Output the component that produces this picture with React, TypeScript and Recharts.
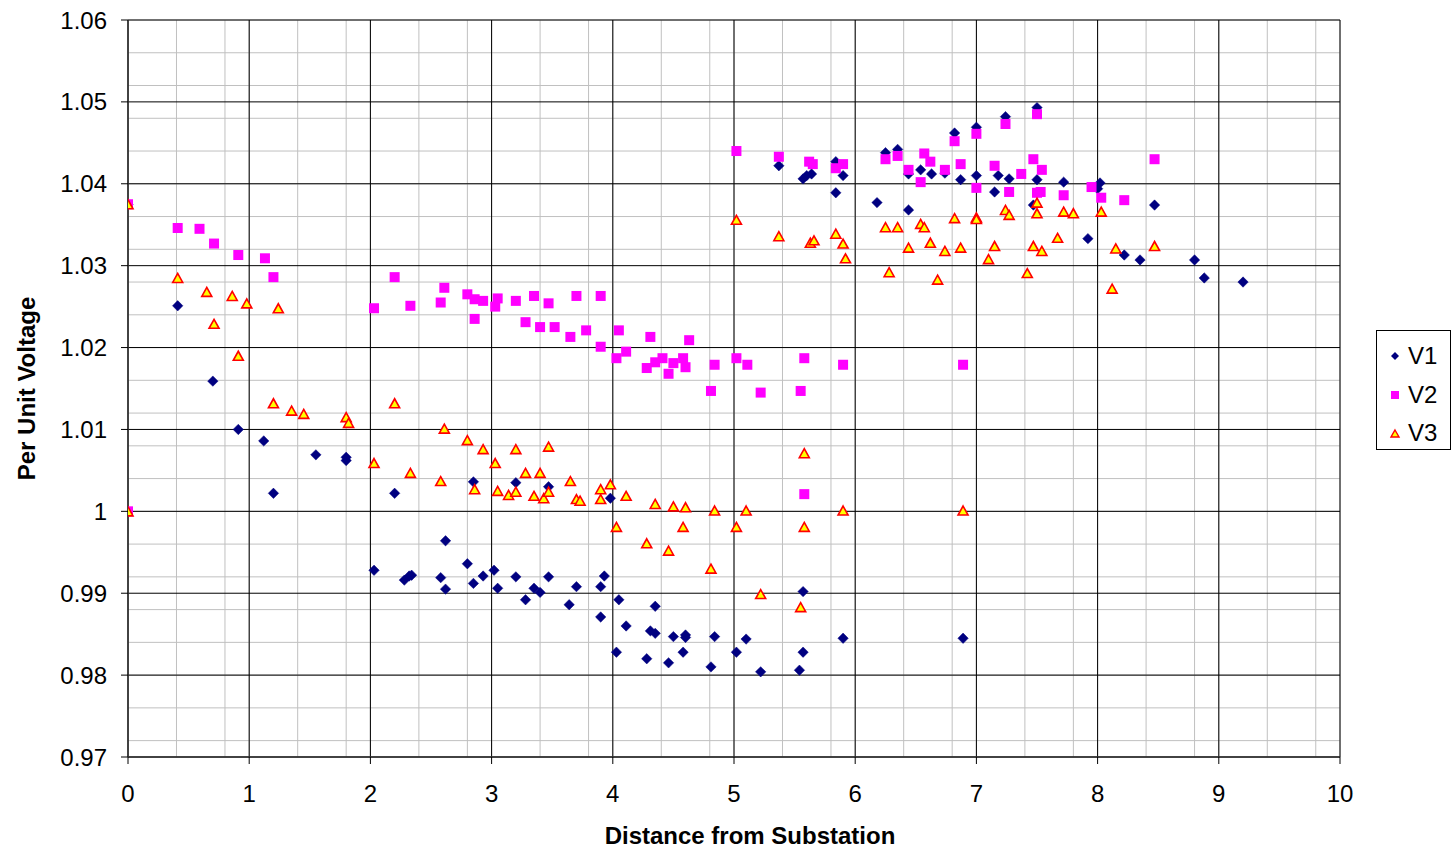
import React from 'react';
import { ScatterChart, Scatter, XAxis, YAxis, CartesianGrid, Legend, Label } from 'recharts';

const X_TICKS = [0, 1, 2, 3, 4, 5, 6, 7, 8, 9, 10];
const Y_TICKS = [0.97, 0.98, 0.99, 1, 1.01, 1.02, 1.03, 1.04, 1.05, 1.06];
const X_MINOR = Array.from({ length: 51 }, (_, i) => +(i * 0.2).toFixed(1));
const Y_MINOR = Array.from({ length: 46 }, (_, i) => +(0.97 + i * 0.002).toFixed(3));

const V1_POINTS: number[][] = [
  [0, 1.0375], [0, 1.0],
  [0.41, 1.0251], [0.70, 1.0159], [0.91, 1.0100], [1.12, 1.0086], [1.20, 1.0022], [1.55, 1.0069],
  [1.80, 1.0066], [1.80, 1.0062], [2.20, 1.0022], [2.85, 1.0036], [3.20, 1.0035], [3.47, 1.0030], [3.98, 1.0016],
  [2.03, 0.9928], [2.28, 0.9916], [2.32, 0.9921], [2.34, 0.9922], [2.58, 0.9919], [2.62, 0.9964], [2.62, 0.9905],
  [2.80, 0.9936], [2.85, 0.9912], [2.93, 0.9921], [3.02, 0.9928], [3.05, 0.9906], [3.20, 0.9920], [3.28, 0.9892],
  [3.35, 0.9906], [3.40, 0.9901], [3.47, 0.9920], [3.64, 0.9886], [3.70, 0.9908], [3.90, 0.9871], [3.90, 0.9908],
  [3.93, 0.9921], [4.05, 0.9892], [4.11, 0.9860], [4.03, 0.9828], [4.28, 0.9820], [4.31, 0.9854], [4.35, 0.9851],
  [4.35, 0.9884], [4.46, 0.9815], [4.50, 0.9847], [4.58, 0.9828], [4.60, 0.9849], [4.60, 0.9846], [4.81, 0.9810],
  [4.84, 0.9847], [5.02, 0.9828], [5.10, 0.9844], [5.22, 0.9804], [5.54, 0.9806], [5.57, 0.9828], [5.57, 0.9902],
  [5.90, 0.9845], [6.89, 0.9845],
  [5.37, 1.0422], [5.57, 1.0406], [5.60, 1.0410], [5.64, 1.0412], [5.84, 1.0427], [5.84, 1.0389], [5.90, 1.0410],
  [6.18, 1.0377], [6.25, 1.0438], [6.35, 1.0442], [6.44, 1.0368], [6.44, 1.0412], [6.54, 1.0417], [6.63, 1.0412],
  [6.74, 1.0413], [6.82, 1.0462], [6.87, 1.0405], [7.00, 1.0469], [7.00, 1.0410], [7.15, 1.0390], [7.18, 1.0410],
  [7.24, 1.0482], [7.27, 1.0406], [7.50, 1.0493], [7.50, 1.0405], [7.47, 1.0374], [7.72, 1.0402], [7.92, 1.0333],
  [8.02, 1.0401], [8.00, 1.0394], [8.22, 1.0313], [8.35, 1.0307], [8.47, 1.0374], [8.80, 1.0307], [8.88, 1.0285],
  [9.20, 1.0280],
];

const V2_POINTS: number[][] = [
  [0, 1.0375], [0, 1.0],
  [0.41, 1.0346], [0.59, 1.0345], [0.71, 1.0327], [0.91, 1.0313], [1.13, 1.0309], [1.20, 1.0286], [2.20, 1.0286],
  [2.61, 1.0273], [2.03, 1.0248], [2.33, 1.0251], [2.58, 1.0255], [2.80, 1.0265], [2.86, 1.0259], [2.93, 1.0257],
  [2.86, 1.0235], [3.03, 1.0250], [3.05, 1.0260], [3.20, 1.0257], [3.35, 1.0263], [3.47, 1.0254], [3.70, 1.0263],
  [3.90, 1.0263], [3.28, 1.0231], [3.40, 1.0225], [3.52, 1.0225], [3.65, 1.0213], [3.78, 1.0221], [3.90, 1.0201],
  [4.05, 1.0221], [4.11, 1.0195], [4.03, 1.0187], [4.31, 1.0213], [4.63, 1.0209], [4.28, 1.0175], [4.35, 1.0182],
  [4.41, 1.0187], [4.50, 1.0181], [4.46, 1.0168], [4.58, 1.0187], [4.60, 1.0176], [4.84, 1.0179], [5.02, 1.0187],
  [5.11, 1.0179], [4.81, 1.0147], [5.22, 1.0145], [5.55, 1.0147], [5.58, 1.0187], [5.90, 1.0179], [5.58, 1.0021],
  [6.89, 1.0179],
  [5.02, 1.0440], [5.37, 1.0433], [5.62, 1.0427], [5.65, 1.0424], [5.84, 1.0419], [5.90, 1.0424], [6.25, 1.0430],
  [6.35, 1.0434], [6.44, 1.0417], [6.54, 1.0402], [6.57, 1.0437], [6.62, 1.0427], [6.74, 1.0417], [6.82, 1.0452],
  [6.87, 1.0424], [7.00, 1.0461], [7.00, 1.0395], [7.15, 1.0422], [7.24, 1.0473], [7.27, 1.0390], [7.37, 1.0412],
  [7.47, 1.0430], [7.50, 1.0485], [7.50, 1.0389], [7.53, 1.0390], [7.54, 1.0417], [7.72, 1.0386], [7.95, 1.0396],
  [8.03, 1.0383], [8.22, 1.0380], [8.47, 1.0430],
];

const V3_POINTS: number[][] = [
  [0, 1.0375], [0, 1.0],
  [0.41, 1.0285], [0.65, 1.0268], [0.86, 1.0263], [0.98, 1.0254], [1.24, 1.0248], [0.71, 1.0229], [0.91, 1.0190],
  [1.20, 1.0132], [1.35, 1.0123], [1.45, 1.0119], [1.80, 1.0115], [1.82, 1.0108], [2.20, 1.0132], [2.03, 1.0059],
  [2.33, 1.0047], [2.58, 1.0037], [2.61, 1.0101], [2.80, 1.0087], [2.93, 1.0076], [3.03, 1.0059], [2.86, 1.0027],
  [3.05, 1.0025], [3.14, 1.0020], [3.20, 1.0024], [3.20, 1.0076], [3.47, 1.0079], [3.28, 1.0047], [3.40, 1.0047],
  [3.65, 1.0037], [3.35, 1.0019], [3.43, 1.0016], [3.47, 1.0024], [3.70, 1.0015], [3.73, 1.0013], [3.90, 1.0027],
  [3.90, 1.0015], [3.98, 1.0033], [4.11, 1.0019], [4.35, 1.0009], [4.50, 1.0006], [4.60, 1.0005], [4.84, 1.0001],
  [5.10, 1.0001], [5.90, 1.0001], [5.58, 1.0071], [4.03, 0.9981], [4.58, 0.9981], [5.02, 0.9981], [5.58, 0.9981],
  [4.28, 0.9961], [4.46, 0.9952], [4.81, 0.9930], [5.22, 0.9899], [5.55, 0.9883], [6.89, 1.0001],
  [5.02, 1.0356], [5.37, 1.0336], [5.63, 1.0328], [5.66, 1.0331], [5.84, 1.0339], [5.90, 1.0327], [5.92, 1.0309],
  [6.25, 1.0347], [6.28, 1.0292], [6.35, 1.0347], [6.44, 1.0322], [6.54, 1.0351], [6.57, 1.0347], [6.62, 1.0328],
  [6.68, 1.0283], [6.74, 1.0318], [6.82, 1.0358], [6.87, 1.0322], [7.00, 1.0359], [7.00, 1.0357], [7.10, 1.0308],
  [7.15, 1.0324], [7.24, 1.0368], [7.27, 1.0362], [7.42, 1.0291], [7.47, 1.0324], [7.54, 1.0318], [7.50, 1.0377],
  [7.50, 1.0364], [7.67, 1.0334], [7.72, 1.0366], [7.80, 1.0364], [8.03, 1.0366], [8.12, 1.0272], [8.15, 1.0321],
  [8.47, 1.0324],
];

const toData = (pts: number[][]) => pts.map(([x, y]) => ({ x, y }));

const NAVY = '#000080';
const MAGENTA = '#FF00FF';
const YELLOW = '#FFFF00';
const RED = '#FF0000';
const FONT = '"Liberation Sans", Arial, Helvetica, sans-serif';

const diamondPts = (cx: number, cy: number, r: number) =>
  `${cx},${cy - r} ${cx + r},${cy} ${cx},${cy + r} ${cx - r},${cy}`;
const trianglePts = (cx: number, cy: number, w: number, h: number) =>
  `${cx},${cy - h / 2} ${cx + w / 2},${cy + h / 2} ${cx - w / 2},${cy + h / 2}`;

const DiamondShape = (p: any) => (
  <polygon points={diamondPts(p.cx, p.cy, 5.2)} fill={NAVY} stroke={NAVY} strokeWidth={0.5} />
);
const SquareShape = (p: any) => (
  <rect x={p.cx - 5} y={p.cy - 5} width={10} height={10} fill={MAGENTA} />
);
const TriangleShape = (p: any) => (
  <polygon points={trianglePts(p.cx, p.cy, 10, 9)} fill={YELLOW} stroke={RED} strokeWidth={1.6} strokeLinejoin="miter" />
);

const SERIES = [
  { name: 'V1', data: toData(V1_POINTS), shape: DiamondShape },
  { name: 'V2', data: toData(V2_POINTS), shape: SquareShape },
  { name: 'V3', data: toData(V3_POINTS), shape: TriangleShape },
];

const LegendMarker = ({ name }: { name: string }) => {
  if (name === 'V1')
    return (
      <svg width={14} height={14}>
        <polygon points={diamondPts(7, 7, 4)} fill={NAVY} />
      </svg>
    );
  if (name === 'V2')
    return (
      <svg width={14} height={14}>
        <rect x={3} y={3} width={8} height={8} fill={MAGENTA} />
      </svg>
    );
  return (
    <svg width={14} height={14}>
      <polygon points={trianglePts(7, 7.5, 8, 7)} fill={YELLOW} stroke={RED} strokeWidth={1.4} />
    </svg>
  );
};

const renderLegend = () => (
  <div
    style={{
      boxSizing: 'border-box',
      width: 75,
      height: 120,
      border: '1px solid #000',
      background: '#fff',
      paddingTop: 6,
      fontFamily: FONT,
    }}
  >
    {SERIES.map((s) => (
      <div key={s.name} style={{ display: 'flex', alignItems: 'center', height: 38.5, paddingLeft: 11 }}>
        <LegendMarker name={s.name} />
        <span style={{ fontSize: 24, lineHeight: '38.5px', marginLeft: 6, color: '#000' }}>{s.name}</span>
      </div>
    ))}
  </div>
);

const fmtY = (v: number) => String(+Number(v).toFixed(2));

export default function App() {
  return (
    <div style={{ position: 'absolute', left: 0, top: 0, width: 1454, height: 854, background: '#fff' }}>
      <ScatterChart
        width={1454}
        height={854}
        margin={{ top: 20, right: 114, bottom: 0, left: 0 }}
        style={{ fontFamily: FONT }}
      >
        <XAxis xAxisId="minor" type="number" dataKey="x" domain={[0, 10]} ticks={X_MINOR} hide allowDataOverflow />
        <YAxis yAxisId="minor" type="number" dataKey="y" domain={[0.97, 1.06]} ticks={Y_MINOR} hide allowDataOverflow />
        <CartesianGrid xAxisId="minor" yAxisId="minor" stroke="#c0c0c0" strokeWidth={1} />
        <CartesianGrid stroke="#000" strokeWidth={1} />
        <XAxis
          type="number"
          dataKey="x"
          domain={[0, 10]}
          ticks={X_TICKS}
          interval={0}
          height={97}
          tickSize={7}
          tickMargin={21}
          allowDataOverflow
          axisLine={{ stroke: '#333', strokeWidth: 1.5 }}
          tickLine={{ stroke: '#000' }}
          tick={{ fontSize: 24, fill: '#000', fontFamily: FONT }}
        >
          <Label
            value="Distance from Substation"
            position="insideBottom"
            offset={10}
            dx={16}
            style={{ fontSize: 24, fontWeight: 'bold', fill: '#000', fontFamily: FONT }}
          />
        </XAxis>
        <YAxis
          type="number"
          dataKey="y"
          domain={[0.97, 1.06]}
          ticks={Y_TICKS}
          interval={0}
          width={128}
          tickSize={7}
          tickMargin={14}
          allowDataOverflow
          tickFormatter={fmtY}
          axisLine={{ stroke: '#333', strokeWidth: 1.5 }}
          tickLine={{ stroke: '#000' }}
          tick={{ fontSize: 24, fill: '#000', fontFamily: FONT }}
        >
          <Label
            value="Per Unit Voltage"
            angle={-90}
            position="insideLeft"
            offset={26}
            style={{ fontSize: 24, fontWeight: 'bold', fill: '#000', fontFamily: FONT, textAnchor: 'middle' }}
          />
        </YAxis>
        {SERIES.map((s) => (
          <Scatter key={s.name} name={s.name} data={s.data} shape={s.shape} isAnimationActive={false} />
        ))}
        <Legend
          layout="vertical"
          align="center"
          verticalAlign="middle"
          wrapperStyle={{ left: 1376, top: 330, width: 75, height: 120 }}
          content={renderLegend}
        />
      </ScatterChart>
    </div>
  );
}
